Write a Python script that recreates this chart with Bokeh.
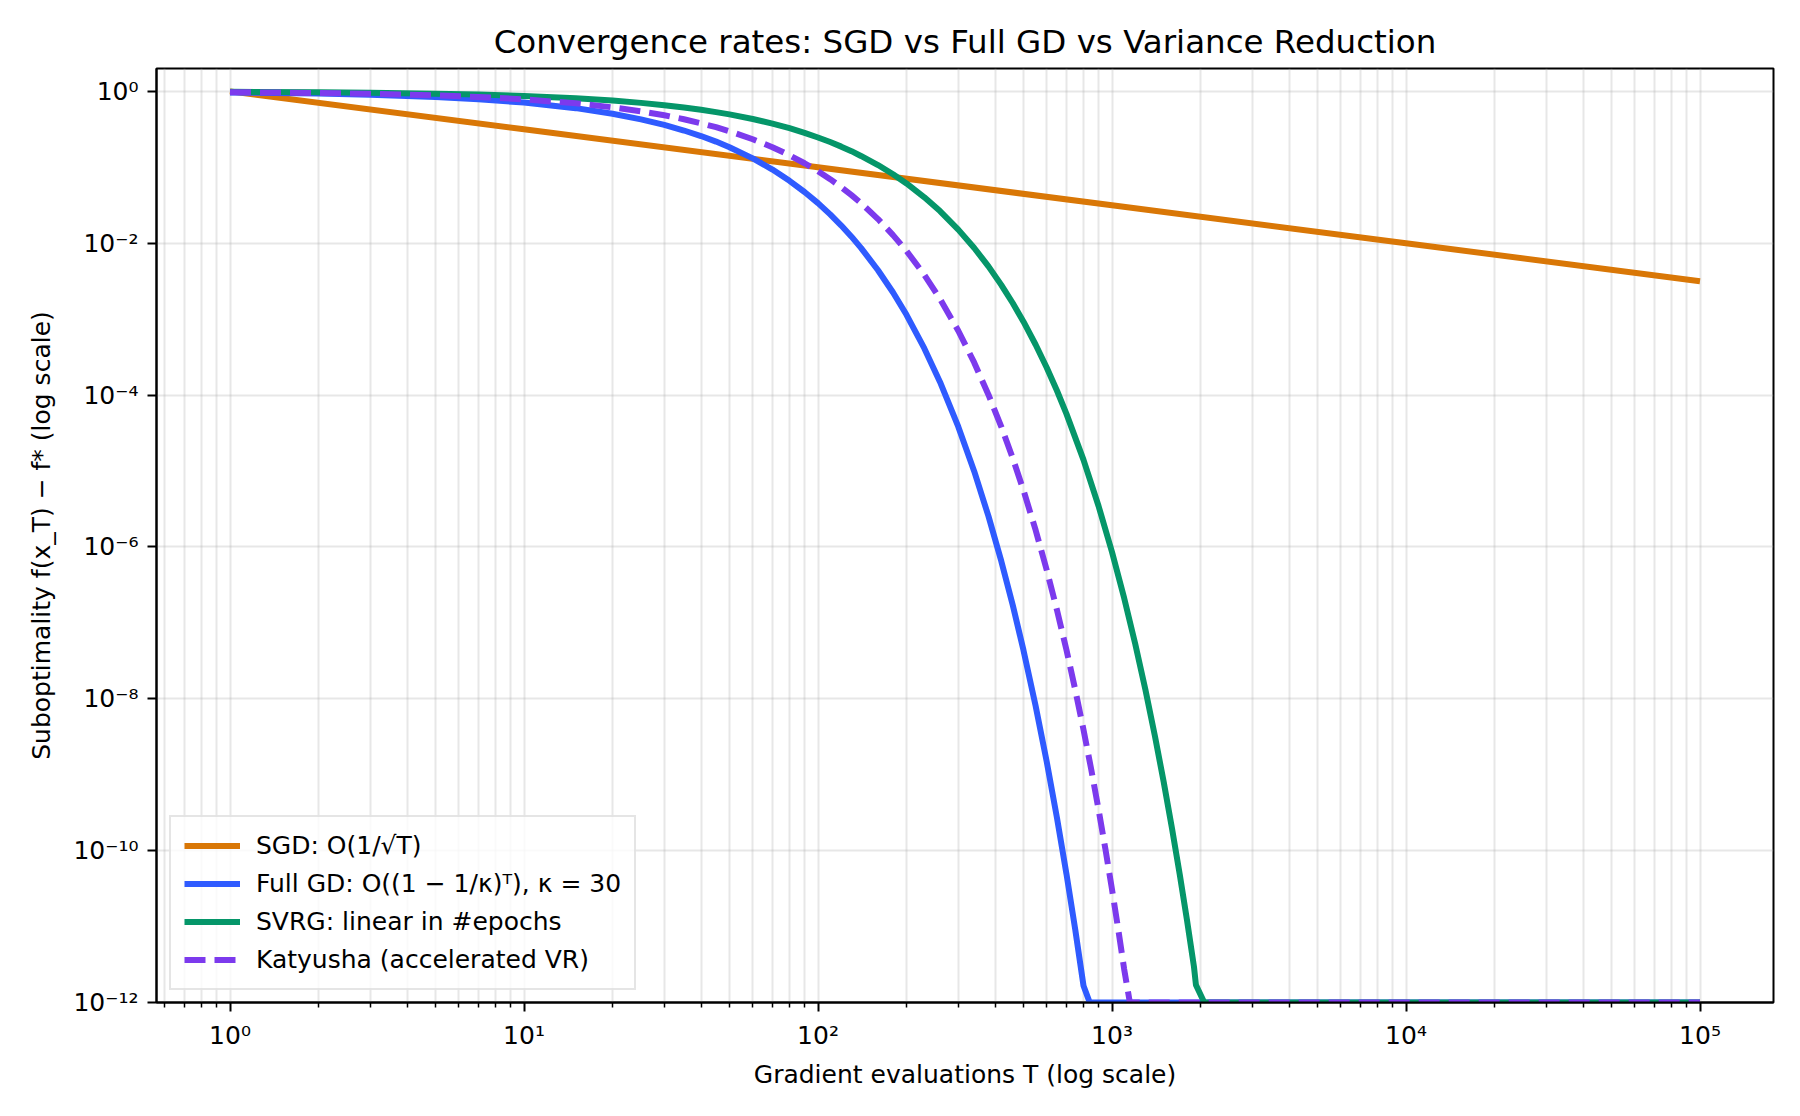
from bokeh.plotting import figure
from bokeh.models import Range1d, FixedTicker, CustomJSTickFormatter
from bokeh.embed import file_html
from bokeh.resources import INLINE

# ---- data: suboptimality f(x_T) - f* against gradient evaluations T ----
sgd_T = [1, 10, 100, 1000, 10000, 100000]
sgd_f = [1.0, 0.316, 0.1, 0.0316, 0.01, 0.00316]

gd_T = [1, 2, 3, 5, 7, 10, 15, 20, 25, 30, 35, 40, 45, 50, 60, 70, 80, 90, 100,
        110, 120, 130, 140, 160, 180, 200, 230, 260, 300, 340, 380, 420, 460, 500,
        550, 600, 650, 700, 750, 800, 840, 100000]
gd_f = [0.967, 0.934, 0.903, 0.844, 0.789, 0.712, 0.601, 0.508, 0.428, 0.362,
        0.305, 0.258, 0.218, 0.184, 0.131, 0.0932, 0.0664, 0.0473, 0.0337,
        0.0240, 0.0171, 0.0122, 8.69e-3, 4.41e-3, 2.24e-3,
        1.14e-3, 4.11e-4, 1.49e-4, 3.83e-5, 9.87e-6, 2.54e-6, 6.55e-7, 1.69e-7,
        4.35e-8, 7.99e-9, 1.47e-9, 2.69e-10, 4.94e-11, 9.07e-12, 1.66e-12,
        1e-12, 1e-12]

svrg_T = [1, 2, 3, 5, 7, 10, 15, 20, 25, 30, 35, 40, 45, 50, 60, 70, 80, 90, 100,
          110, 120, 130, 140, 160, 180, 200, 230, 260, 300, 340, 380, 420, 460, 500,
          550, 600, 650, 700, 800, 900, 1000, 1100, 1200, 1300, 1400, 1500,
          1600, 1700, 1800, 1900, 1930, 2060, 100000]
svrg_f = [0.986, 0.972, 0.959, 0.933, 0.907, 0.870, 0.811, 0.756, 0.705, 0.658,
          0.613, 0.572, 0.533, 0.497, 0.433, 0.376, 0.327, 0.284, 0.247,
          0.215, 0.187, 0.163, 0.141, 0.107, 0.0809, 0.0612,
          0.0402, 0.0265, 0.0151, 8.65e-3, 4.95e-3, 2.83e-3, 1.62e-3, 9.26e-4,
          4.60e-4, 2.29e-4, 1.14e-4, 5.66e-5, 1.40e-5, 3.46e-6, 8.57e-7, 2.12e-7,
          5.24e-8, 1.30e-8, 3.21e-9, 7.93e-10, 1.96e-10, 4.86e-11, 1.20e-11,
          2.97e-12, 1.7e-12, 1e-12, 1e-12]

katy_T = [1, 2, 3, 5, 7, 10, 15, 20, 25, 30, 35, 40, 45, 50, 60, 70, 80, 90, 100,
          110, 120, 130, 140, 160, 180, 200, 230, 260, 300, 340, 380, 420, 460, 500,
          550, 600, 650, 700, 750, 800, 850, 900, 950, 1000, 1050, 1100, 1150,
          100000]
katy_f = [0.976, 0.953, 0.930, 0.886, 0.844, 0.785, 0.696, 0.616, 0.546, 0.484,
          0.429, 0.380, 0.337, 0.298, 0.234, 0.184, 0.144, 0.113, 0.0889,
          0.0698, 0.0548, 0.0430, 0.0338, 0.0208, 0.0128,
          7.91e-3, 3.83e-3, 1.85e-3, 7.03e-4, 2.67e-4, 1.01e-4, 3.85e-5, 1.46e-5,
          5.56e-6, 1.66e-6, 4.94e-7, 1.47e-7, 4.40e-8, 1.31e-8, 3.91e-9, 1.17e-9,
          3.48e-10, 1.04e-10, 3.09e-11, 9.21e-12, 2.75e-12, 1e-12, 1e-12]

labels = [
    "SGD: O(1/\u221aT)",
    "Full GD: O((1 \u2212 1/\u03ba)\u1d40), \u03ba = 30",
    "SVRG: linear in #epochs",
    "Katyusha (accelerated VR)",
]
colors = ["#d97706", "#2f5bff", "#059669", "#7c3aed"]

x_major = [1, 10, 100, 1000, 10000, 100000]
y_major = [1e0, 1e-2, 1e-4, 1e-6, 1e-8, 1e-10, 1e-12]

FONT = "DejaVu Sans"

p = figure(
    width=1800, height=1116,
    x_axis_type="log", y_axis_type="log",
    x_range=Range1d(10 ** -0.25, 10 ** 5.25),
    y_range=Range1d(1e-12, 2.0),
    output_backend="svg", toolbar_location=None,
    title="Convergence rates: SGD vs Full GD vs Variance Reduction",
    min_border_left=156, min_border_right=27,
    min_border_top=68, min_border_bottom=114,
)
p.background_fill_color = "white"
p.border_fill_color = "white"
p.outline_line_color = "black"
p.outline_line_width = 2

p.title.align = "center"
p.title.text_font = FONT
p.title.text_font_size = "32.5px"
p.title.text_font_style = "normal"
p.title.text_color = "black"
p.title.standoff = 15

# minor tick positions at 2..9 x each decade
x_minor = [m * 10.0 ** k for k in range(-1, 5) for m in range(2, 10)]
x_minor = [v for v in x_minor if 10 ** -0.25 < v < 10 ** 5.25 and v not in x_major]

p.xaxis.ticker = FixedTicker(ticks=x_major, minor_ticks=x_minor)
p.yaxis.ticker = FixedTicker(ticks=y_major, minor_ticks=[])

sup_fmt = CustomJSTickFormatter(code="""
    const sup = {"0":"\u2070","1":"\u00b9","2":"\u00b2","3":"\u00b3","4":"\u2074",
                 "5":"\u2075","6":"\u2076","7":"\u2077","8":"\u2078","9":"\u2079",
                 "-":"\u207b"};
    const e = Math.round(Math.log10(tick));
    return "10" + String(e).split("").map(c => sup[c]).join("");
""")
p.xaxis.formatter = sup_fmt
p.yaxis.formatter = sup_fmt

p.xaxis.axis_label = "Gradient evaluations T (log scale)"
p.yaxis.axis_label = "Suboptimality f(x_T) \u2212 f* (log scale)"

for ax in (p.xaxis, p.yaxis):
    ax.axis_label_text_font = FONT
    ax.axis_label_text_font_size = "25px"
    ax.axis_label_text_font_style = "normal"
    ax.axis_label_text_color = "black"
    ax.major_label_text_font = FONT
    ax.major_label_text_font_size = "25px"
    ax.major_label_text_color = "black"
    ax.axis_line_color = "black"
    ax.axis_line_width = 2
    ax.major_tick_line_color = "black"
    ax.major_tick_line_width = 2
    ax.major_tick_out = 9
    ax.major_tick_in = 0
    ax.minor_tick_line_color = "black"
    ax.minor_tick_line_width = 1.5
    ax.minor_tick_out = 5
    ax.minor_tick_in = 0
    ax.major_label_standoff = 9

p.xaxis.axis_label_standoff = 7
p.yaxis.axis_label_standoff = 14

p.xgrid.grid_line_color = "#b0b0b0"
p.xgrid.grid_line_alpha = 0.3
p.xgrid.grid_line_width = 2
p.xgrid.minor_grid_line_color = "#b0b0b0"
p.xgrid.minor_grid_line_alpha = 0.3
p.xgrid.minor_grid_line_width = 2
p.ygrid.grid_line_color = "#b0b0b0"
p.ygrid.grid_line_alpha = 0.3
p.ygrid.grid_line_width = 2

LW = 6
p.line(sgd_T, sgd_f, line_color=colors[0], line_width=LW, legend_label=labels[0])
p.line(gd_T, gd_f, line_color=colors[1], line_width=LW, legend_label=labels[1])
p.line(svrg_T, svrg_f, line_color=colors[2], line_width=LW, legend_label=labels[2])
p.line(katy_T, katy_f, line_color=colors[3], line_width=LW, line_dash="21 9",
       legend_label=labels[3])

lg = p.legend[0]
lg.location = (13, 12)
lg.label_text_font = FONT
lg.label_text_font_size = "25px"
lg.label_text_color = "black"
lg.glyph_width = 56
lg.glyph_height = 31
lg.label_height = 31
lg.label_standoff = 16
lg.spacing = 7
lg.padding = 13
lg.margin = 0
lg.border_line_color = "#cccccc"
lg.border_line_width = 2
lg.background_fill_color = "white"
lg.background_fill_alpha = 0.8

open("out.html", "w").write(file_html(p, INLINE, title="Convergence rates"))
